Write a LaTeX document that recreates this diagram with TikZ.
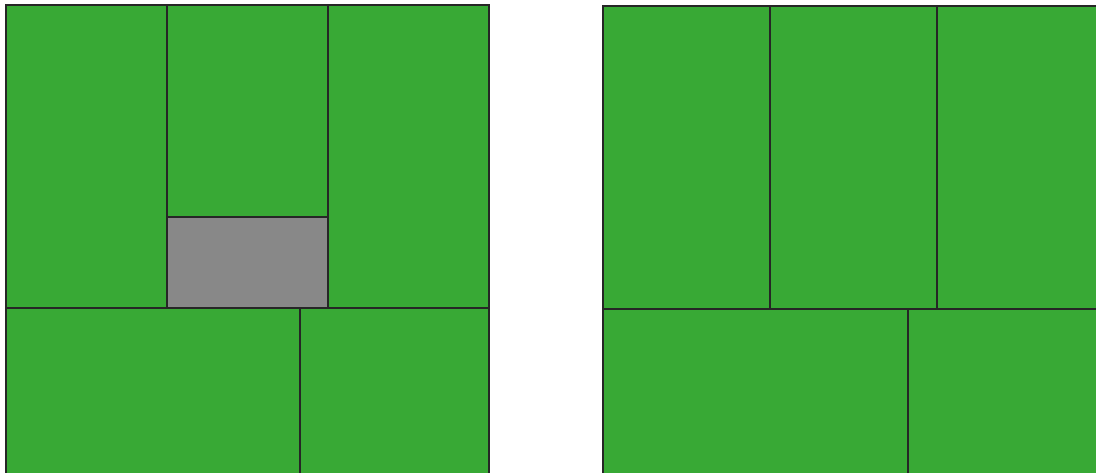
\documentclass[tikz,border=0pt]{standalone}
\definecolor{grn}{HTML}{38A935}
\definecolor{gry}{HTML}{888888}
\begin{document}
\begin{tikzpicture}[x=1pt,y=-1pt,
  cell/.style={fill=grn,draw=black!85,line width=1.2pt},
  graycell/.style={fill=gry,draw=black!85,line width=1.2pt}]
\useasboundingbox (0,0) rectangle (1096,472);
\begin{scope}
\clip (0,0) rectangle (1096,472);
% left panel
\draw[cell] (6,5) rectangle (167,308);
\draw[cell] (167,5) rectangle (328,217);
\draw[graycell] (167,217) rectangle (328,308);
\draw[cell] (328,5) rectangle (489,308);
\draw[cell] (6,308) rectangle (300,480);
\draw[cell] (300,308) rectangle (489,480);
% right panel
\draw[cell] (603,6) rectangle (770,309);
\draw[cell] (770,6) rectangle (937,309);
\draw[cell] (937,6) rectangle (1100,309);
\draw[cell] (603,309) rectangle (908,480);
\draw[cell] (908,309) rectangle (1100,480);
\end{scope}
\end{tikzpicture}
\end{document}
